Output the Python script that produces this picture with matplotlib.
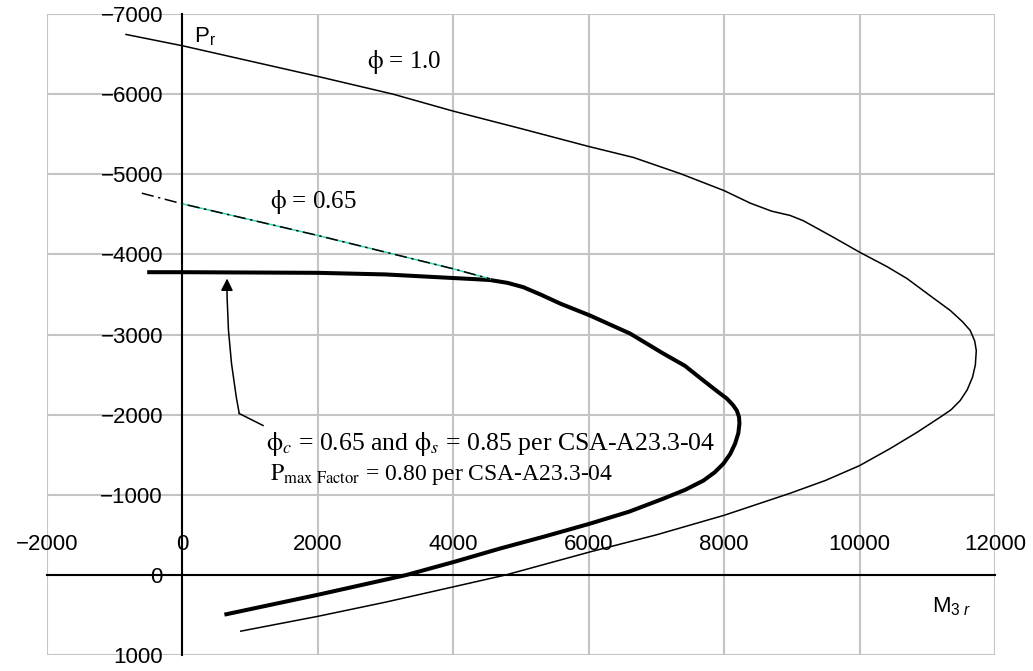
import matplotlib
matplotlib.use('Agg')
import matplotlib.pyplot as plt
from matplotlib import font_manager as fm

# fonts: condensed sans for axes, Times-like serif for the notes
names = {f.name for f in fm.fontManager.ttflist}
sans = 'Liberation Sans Narrow' if 'Liberation Sans Narrow' in names else 'Liberation Sans'
serif = 'Liberation Serif'
plt.rcParams['font.family'] = [sans, 'DejaVu Sans']
plt.rcParams['mathtext.fontset'] = 'custom'
plt.rcParams['mathtext.rm'] = sans
plt.rcParams['mathtext.it'] = sans + ':italic'

# phi = 1.0 curve (M3r, Pr)
phi1_m = [-833, 0, 2000, 3110, 4000, 5000, 6000, 6660, 7360, 8000, 8385, 8700,
          8975, 9170, 9600, 10000, 10400, 10700, 11050, 11340, 11520, 11635,
          11700, 11724, 11710, 11668, 11590, 11486, 11350, 11190, 10850, 10452,
          10000, 9500, 8975, 8000, 7000, 6028, 4777, 4022, 3000, 2000, 862]
phi1_p = [-6745, -6604, -6221, -6000, -5788, -5570, -5347, -5210, -5006, -4796,
          -4640, -4540, -4486, -4420, -4220, -4028, -3850, -3699, -3480, -3300,
          -3160, -3050, -2920, -2800, -2620, -2467, -2310, -2176, -2060, -1968,
          -1780, -1577, -1364, -1180, -1019, -744, -500, -289, 0, 145, 340, 517, 702]

# phi_c = 0.65, phi_s = 0.85, Pmax factor 0.80 (thick)
fact_m = [-520, 0, 2000, 3000, 4000, 4300, 4544, 4800, 5034, 5300, 5580, 6020,
          6611, 7103, 7420, 7694, 7900, 8040, 8130, 8188, 8220, 8226, 8210, 8162,
          8090, 7990, 7860, 7694, 7420, 7103, 6600, 6020, 5350, 4690, 4022, 3313,
          2000, 620]
fact_p = [-3778, -3778, -3770, -3750, -3705, -3692, -3680, -3645, -3591, -3495,
          -3386, -3237, -3012, -2762, -2610, -2426, -2290, -2201, -2120, -2051,
          -1970, -1889, -1770, -1639, -1510, -1389, -1280, -1177, -1060, -952,
          -790, -640, -480, -329, -165, 0, 248, 496]

# phi = 0.65 uncapped (dash-dot)
phi065_m = [-600, 0, 2000, 4000, 4544]
phi065_p = [-4764, -4631, -4236, -3820, -3695]

x_ticks = [-2000, 0, 2000, 4000, 6000, 8000, 10000, 12000]
y_ticks = [-7000, -6000, -5000, -4000, -3000, -2000, -1000, 0, 1000]

fig = plt.figure(figsize=(10.33, 6.71), dpi=100)
ax = fig.add_axes([0.0455, 0.0238, 0.9177, 0.9553])
ax.set_xlim(-2000, 12000)
ax.set_ylim(1000, -7000)
ax.set_xticks(x_ticks)
ax.set_yticks(y_ticks)
ax.grid(True, color='#c4c4c4', lw=1.5)
ax.set_axisbelow(True)

for s in ['right', 'bottom']:
    ax.spines[s].set_visible(False)
ax.spines['left'].set_position(('data', 0))
ax.spines['top'].set_position(('data', 0))
for s in ['left', 'top']:
    ax.spines[s].set_linewidth(1.5)
    ax.spines[s].set_zorder(1.5)
ax.xaxis.tick_top()
ax.tick_params(axis='both', length=0, labelsize=16, pad=14)

ax.plot(phi1_m, phi1_p, color='black', lw=1.1)
ax.plot(fact_m, fact_p, color='black', lw=2.9, solid_capstyle='butt', solid_joinstyle='round')
ax.plot(phi065_m[1:], phi065_p[1:], color='#33d6b0', lw=1.1)
ax.plot(phi065_m, phi065_p, color='black', lw=1.1, dashes=(8, 3, 1.5, 3))

# axis names
ax.text(174, -6645, r'$\mathrm{P}_\mathrm{r}$', fontsize=16, va='baseline')
ax.text(11070, 470, r'$\mathrm{M}_{3\ r}$', fontsize=16, va='baseline')

# notes
ax.text(2725, -6321, r'$\mathrm{\phi}$ = 1.0', fontsize=18, family=[serif, 'DejaVu Serif'],
        math_fontfamily='stix', va='baseline')
ax.text(1294, -4582, r'$\mathrm{\phi}$ = 0.65', fontsize=18, family=[serif, 'DejaVu Serif'],
        math_fontfamily='stix', va='baseline')
ax.text(1235, -1554, r'$\mathrm{\phi}_c$ = 0.65 and $\mathrm{\phi}_s$ = 0.85 per CSA-A23.3-04',
        fontsize=18.5, family=[serif, 'DejaVu Serif'], math_fontfamily='stix', va='baseline')
ax.text(1294, -1185, r'$\mathrm{P}_{\mathrm{max\ Factor}}$ = 0.80 per CSA-A23.3-04',
        fontsize=17, family=[serif, 'DejaVu Serif'], math_fontfamily='stix', va='baseline')

# leader with arrow
ax.plot([1190, 839], [-1865, -2014], color='black', lw=1.1)
ax.annotate('', xy=(659, -3699), xytext=(839, -2014),
            arrowprops=dict(arrowstyle='-|>', color='black', lw=1.1,
                            connectionstyle='arc3,rad=-0.05',
                            mutation_scale=18, shrinkA=0, shrinkB=0))

fig.savefig('out.png', dpi=100)
